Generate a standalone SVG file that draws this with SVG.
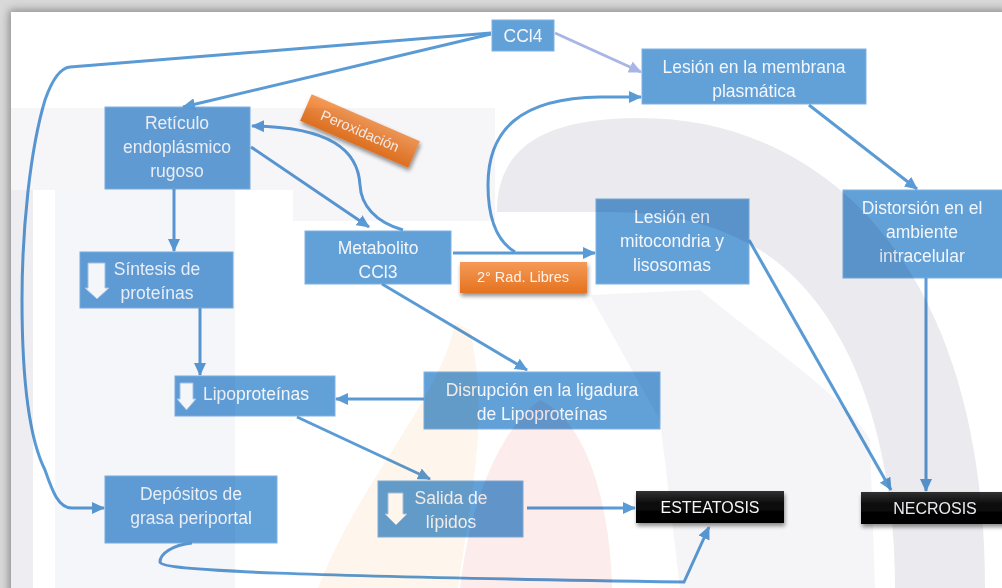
<svg xmlns="http://www.w3.org/2000/svg" width="1002" height="588" viewBox="0 0 1002 588">
<style>
.box{fill:#62a0d8;stroke:#7db2e2;stroke-width:1}
.t{font-family:'Liberation Sans',Arial,sans-serif;font-size:17.5px;fill:#f3f6fb;text-anchor:middle}
.tb{font-family:'Liberation Sans',Arial,sans-serif;font-size:16px;fill:#ffffff;text-anchor:middle}
.to{font-family:'Liberation Sans',Arial,sans-serif;font-size:14.5px;fill:#fff3ea;text-anchor:middle}
.c{fill:none;stroke:#5b9bd5;stroke-width:3;marker-end:url(#arr)}
.cl{fill:none;stroke:#a7b6e4;stroke-width:3;marker-end:url(#arrl)}
.da{fill:#ffffff;stroke:#a9c8ea;stroke-width:1}
</style>
<defs>
<marker id="arr" markerUnits="userSpaceOnUse" markerWidth="13" markerHeight="12" refX="12" refY="6" orient="auto"><path d="M0,0 L13,6 L0,12 Z" fill="#5b9bd5"/></marker>
<marker id="arrl" markerUnits="userSpaceOnUse" markerWidth="13" markerHeight="12" refX="12" refY="6" orient="auto"><path d="M0,0 L13,6 L0,12 Z" fill="#a7b6e4"/></marker>
<linearGradient id="og" x1="0" y1="0" x2="0" y2="1"><stop offset="0" stop-color="#f59a57"/><stop offset="1" stop-color="#e5721f"/></linearGradient>
<linearGradient id="bg" x1="0" y1="0" x2="0" y2="1"><stop offset="0" stop-color="#333"/><stop offset="0.4" stop-color="#0a0a0a"/><stop offset="1" stop-color="#000"/></linearGradient>
<filter id="sh" x="-20%" y="-20%" width="140%" height="160%"><feGaussianBlur in="SourceAlpha" stdDeviation="2"/><feOffset dx="1" dy="3"/><feComponentTransfer><feFuncA type="linear" slope="0.45"/></feComponentTransfer><feMerge><feMergeNode/><feMergeNode in="SourceGraphic"/></feMerge></filter>
<filter id="pg" x="-5%" y="-5%" width="110%" height="110%"><feGaussianBlur stdDeviation="4"/></filter>
</defs>

<!-- page frame -->
<rect x="0" y="0" width="1002" height="588" fill="#d9d9d9"/>
<rect x="9" y="10" width="1000" height="600" fill="#555" opacity="0.6" filter="url(#pg)"/>
<rect x="11" y="12" width="991" height="576" fill="#ffffff"/>

<!-- nodes -->
<g id="ccl4"><rect class="box" x="492" y="20" width="62" height="31"/><text class="t" x="523" y="42">CCl4</text></g>
<g id="lesion-membrana"><rect class="box" x="642" y="49" width="224" height="55"/><text class="t" x="754" y="73">Lesión en la membrana</text><text class="t" x="754" y="97">plasmática</text></g>
<g id="reticulo"><rect class="box" x="105" y="107" width="145" height="82"/><text class="t" x="177" y="129">Retículo</text><text class="t" x="177" y="153">endoplásmico</text><text class="t" x="177" y="177">rugoso</text></g>
<g id="peroxidacion" filter="url(#sh)"><g transform="translate(360,131) rotate(23.5)"><rect x="-59" y="-14.5" width="118" height="29" fill="url(#og)"/><text class="to" x="0" y="5">Peroxidación</text></g></g>
<g id="metabolito"><rect class="box" x="305" y="231" width="146" height="53"/><text class="t" x="378" y="254">Metabolito</text><text class="t" x="378" y="278">CCl3</text></g>
<g id="rad-libres" filter="url(#sh)"><rect x="460" y="262" width="127" height="31" fill="url(#og)"/><text class="to" x="523" y="282">2° Rad. Libres</text></g>
<g id="lesion-mito"><rect class="box" x="596" y="199" width="153" height="85"/><text class="t" x="672" y="223">Lesión en</text><text class="t" x="672" y="247">mitocondria y</text><text class="t" x="672" y="271">lisosomas</text></g>
<g id="distorsion"><rect class="box" x="843" y="190" width="162" height="88"/><text class="t" x="922" y="214">Distorsión en el</text><text class="t" x="922" y="238">ambiente</text><text class="t" x="922" y="262">intracelular</text></g>
<g id="sintesis"><rect class="box" x="80" y="252" width="153" height="56"/><path class="da" d="M88,263 L105,263 L105,288 L109,288 L97,299 L85,288 L88,288 Z"/><text class="t" x="157" y="275">Síntesis de</text><text class="t" x="157" y="299">proteínas</text></g>
<g id="lipoproteinas"><rect class="box" x="175" y="376" width="160" height="40"/><path class="da" d="M180,383 L193,383 L193,399 L196,399 L186.5,410 L177,399 L180,399 Z"/><text class="t" x="256" y="400">Lipoproteínas</text></g>
<g id="disrupcion"><rect class="box" x="424" y="372" width="236" height="57"/><text class="t" x="542" y="396">Disrupción en la ligadura</text><text class="t" x="542" y="420">de Lipoproteínas</text></g>
<g id="depositos"><rect class="box" x="105" y="476" width="172" height="67"/><text class="t" x="191" y="500">Depósitos de</text><text class="t" x="191" y="524">grasa periportal</text></g>
<g id="salida"><rect class="box" x="378" y="481" width="145" height="56"/><path class="da" d="M388,493 L403,493 L403,514 L407,514 L396,525 L385,514 L388,514 Z"/><text class="t" x="451" y="504">Salida de</text><text class="t" x="451" y="528">lípidos</text></g>
<g id="esteatosis" filter="url(#sh)"><rect x="636" y="491" width="148" height="32" fill="url(#bg)"/><text class="tb" x="710" y="513">ESTEATOSIS</text></g>
<g id="necrosis" filter="url(#sh)"><rect x="861" y="492" width="145" height="32" fill="url(#bg)"/><text class="tb" x="935" y="514">NECROSIS</text></g>

<!-- connectors -->
<g id="connectors">
<path class="c" d="M491,33 L70,67 C60,68 52,80 45,100 C30,150 22,230 22,300 C22,380 30,440 45,470 C52,490 58,508 72,508 L104,508"/>
<path class="c" d="M491,34 L183,107"/>
<path class="cl" d="M555,33 L641,72"/>
<path class="c" d="M809,105 L917,189"/>
<path class="c" d="M515,252 C495,240 488,215 488,185 C488,130 520,98 600,97 L641,97"/>
<path class="c" d="M453,253 L595,253"/>
<path class="c" d="M251,147 L369,227"/>
<path class="c" d="M403,230 C375,222 361,205 360,185 C358,150 330,127 252,126"/>
<path class="c" d="M174,189 L174,251"/>
<path class="c" d="M200,308 L200,375"/>
<path class="c" d="M382,284 L527,370"/>
<path class="c" d="M424,399 L336,399"/>
<path class="c" d="M297,417 L430,479"/>
<path class="c" d="M527,508 L635,508"/>
<path class="c" d="M192,543 C172,545 160,554 160,562 C161,571 300,576 684,582 L709,527"/>
<path class="c" d="M749,240 L891,490"/>
<path class="c" d="M926,278 L926,491"/>
</g>

<!-- watermark (multiplied over drawing) -->
<g id="watermark" style="mix-blend-mode:multiply">
<rect x="11" y="108" width="22" height="480" fill="#eeeef2"/>
<rect x="55" y="190" width="180" height="398" fill="#f5f6f9"/>
<rect x="11" y="108" width="484" height="82" fill="#f6f6f9"/>
<rect x="293" y="190" width="202" height="31" fill="#f6f6f9"/>
<path d="M590,295 L700,290 C760,340 850,400 870,440 L875,588 L680,588 L660,420 Z" fill="#f5f5f8"/>
<path d="M497,212 C497,150 540,118 640,118 C820,118 985,260 985,588 L895,588 C895,420 840,300 760,250 C700,215 650,212 600,212 Z" fill="#ebebef"/>
<path d="M455,323 C440,400 360,480 318,588 L458,588 C470,500 490,420 470,330 Z" fill="#fef5ec"/>
<path d="M540,400 C500,430 470,500 460,588 L612,588 C610,500 585,420 540,400 Z" fill="#fcecec"/>
</g>
</svg>
